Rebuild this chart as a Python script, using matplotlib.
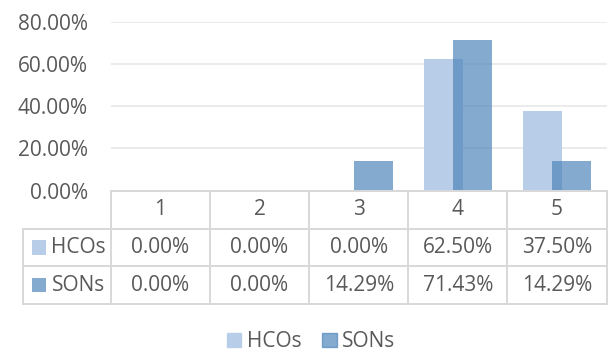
import numpy as np
import matplotlib
matplotlib.use("Agg")
from matplotlib import pyplot as plt
from matplotlib.patches import Rectangle, Patch

categories = ["1", "2", "3", "4", "5"]
series_names = ["HCOs", "SONs"]
hcos = [0.0, 0.0, 0.0, 0.625, 0.375]
sons = [0.0, 0.0, 0.1429, 0.7143, 0.1429]
yticks = [0.0, 0.2, 0.4, 0.6, 0.8]

HCO_COLOR = "#B8CDE8"
SON_COLOR = "#4C82BA"
SON_ALPHA = 0.68
TEXT = "#595959"
GRID = "#EBEBEB"
BORDER = "#D8D8D8"
FS = 15

plt.rcParams["font.family"] = ["Open Sans", "DejaVu Sans"]

W, H = 613, 354
fig = plt.figure(figsize=(W / 100, H / 100), dpi=100)


def px_axes(x0, y0, x1, y1):
    # axes placed by pixel box (top-left origin)
    return fig.add_axes([x0 / W, 1 - y1 / H, (x1 - x0) / W, (y1 - y0) / H])


# --- bar area ---
ax = px_axes(110.7, 21.7, 606.7, 190.7)
x = np.arange(1, len(categories) + 1)
bw, off = 0.39, 0.147
ax.bar(x - off, hcos, bw, color=HCO_COLOR, zorder=2)
ax.bar(x + off, sons, bw, color=SON_COLOR, alpha=SON_ALPHA, zorder=3)
ax.set_xlim(0.5, len(categories) + 0.5)
ax.set_ylim(0, 0.8)
ax.set_xticks([])
ax.set_yticks(yticks)
ax.set_yticklabels([f"{v * 100:.2f}%" for v in yticks], color=TEXT, fontsize=FS)
ax.tick_params(axis="y", length=0, pad=16.5)
ax.yaxis.grid(True, color=GRID, lw=1.4)
ax.set_axisbelow(True)
for s in ax.spines.values():
    s.set_visible(False)

# --- data table under the bars ---
lab_w = 88 / 99.2
tx = px_axes(22.7, 190.7, 606.7, 304.3)
tx.set_xlim(0.5 - lab_w, len(categories) + 0.5)
tx.set_ylim(3, 0)
tx.axis("off")
left = 0.5 - lab_w
right = len(categories) + 0.5
lk = dict(color=BORDER, lw=1.4, clip_on=False, solid_capstyle="projecting")
tx.plot([0.5, right], [0, 0], **lk)
for yy in (1, 2, 3):
    tx.plot([left, right], [yy, yy], **lk)
tx.plot([left, left], [1, 3], **lk)
for xx in np.arange(0.5, right + 0.01, 1):
    tx.plot([xx, xx], [0, 3], **lk)

for i, c in enumerate(categories):
    tx.text(x[i], 0.5, c, ha="center", va="center", color=TEXT, fontsize=FS)
rows = [(series_names[0], hcos, HCO_COLOR, 1.0), (series_names[1], sons, SON_COLOR, SON_ALPHA)]
for r, (name, vals, col, a) in enumerate(rows):
    yc = r + 1.5
    tx.add_patch(Rectangle((left + 0.091, yc - 0.185), 0.141, 0.37,
                           color=col, alpha=a, lw=0, clip_on=False))
    tx.text(left + 0.29, yc, name, ha="left", va="center", color=TEXT, fontsize=FS)
    for i, v in enumerate(vals):
        tx.text(x[i], yc, f"{v * 100:.2f}%", ha="center", va="center",
                color=TEXT, fontsize=FS)

# --- legend ---
handles = [Patch(color=HCO_COLOR), Patch(color=SON_COLOR, alpha=SON_ALPHA)]
fig.legend(handles, series_names, loc="center", bbox_to_anchor=(311 / W, 1 - 341.7 / H),
           ncol=2, frameon=False, fontsize=FS, labelcolor=TEXT,
           handlelength=0.7, handleheight=0.7, handletextpad=0.25, columnspacing=1.0)

fig.savefig("out.png", dpi=100)
